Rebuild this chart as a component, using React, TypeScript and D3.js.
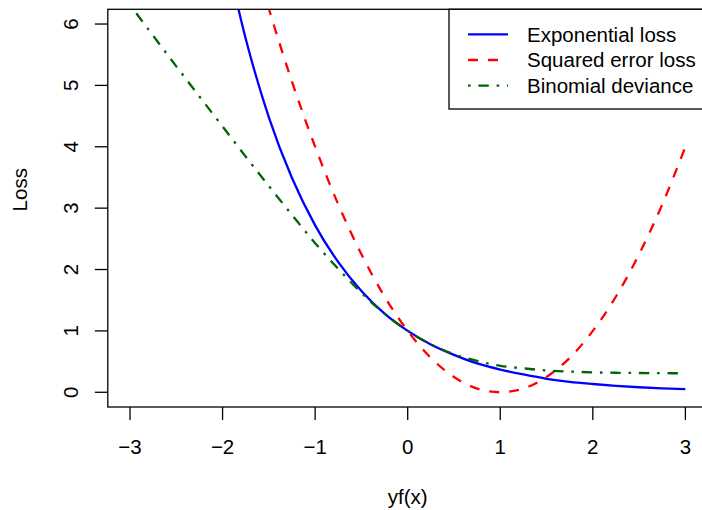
import React from "react";
import * as d3 from "d3";

// sample points of the margin yf(x)
const xs = [
  -3, -2.75, -2.5, -2.25, -2, -1.75, -1.5, -1.25, -1, -0.75, -0.5, -0.25, 0,
  0.25, 0.5, 0.75, 1, 1.25, 1.5, 1.75, 2, 2.25, 2.5, 2.75, 3,
];

// exponential loss (starts at x = -2, above the top of the frame)
const expLoss = [
  null, null, null, null, 7.39, 5.76, 4.48, 3.49, 2.72, 2.12, 1.65, 1.28, 1.0,
  0.78, 0.61, 0.47, 0.37, 0.29, 0.22, 0.17, 0.135, 0.105, 0.082, 0.064, 0.05,
];

// squared error loss (starts at x = -1.75)
const sqLoss = [
  null, null, null, null, null, 7.56, 6.25, 5.06, 4.0, 3.06, 2.25, 1.56, 1.0,
  0.56, 0.25, 0.06, 0.0, 0.06, 0.25, 0.56, 1.0, 1.56, 2.25, 3.06, 4.0,
];

// binomial deviance
const binDev = [
  6.31, 5.81, 5.31, 4.82, 4.33, 3.84, 3.36, 2.89, 2.43, 2.01, 1.62, 1.28, 1.0,
  0.78, 0.62, 0.51, 0.43, 0.39, 0.355, 0.337, 0.325, 0.318, 0.314, 0.311, 0.309,
];

const xTicks = [-3, -2, -1, 0, 1, 2, 3];
const yTicks = [0, 1, 2, 3, 4, 5, 6];

const series = [
  { name: "Exponential loss", values: expLoss, color: "#0000ff", dash: "none" },
  { name: "Squared error loss", values: sqLoss, color: "#ff0000", dash: "10 10" },
  { name: "Binomial deviance", values: binDev, color: "#006400", dash: "2.6 7.8 10.4 7.8" },
];

const W = 702;
const H = 510;
const FONT = "'Liberation Sans', Arial, Helvetica, sans-serif";
const FS = 20.5;

export default function App() {
  const x = d3.scaleLinear().domain([-3.24, 3.24]).range([107.8, 707.6]);
  const y = d3.scaleLinear().domain([-0.24, 6.24]).range([407, 9.3]);
  const [x0, x1] = x.range();
  const [y0, y1] = y.range();

  const line = (vals) =>
    d3
      .line()
      .defined((d) => d[1] != null)
      .x((d) => x(d[0]))
      .y((d) => y(d[1]))
      .curve(d3.curveMonotoneX)(xs.map((v, i) => [v, vals[i]]));

  // legend geometry
  const legLeft = 449;
  const legBottom = 109;
  const rowY = [34.3, 60, 85.6];

  return (
    <svg
      width={W}
      height={H}
      style={{ position: "absolute", left: 0, top: 0, background: "#fff" }}
      fontFamily={FONT}
    >
      <defs>
        <clipPath id="plot">
          <rect x={x0} y={y1} width={x1 - x0} height={y0 - y1} />
        </clipPath>
      </defs>

      <g clipPath="url(#plot)">
        {series.map((s) => (
          <path
            key={s.name}
            d={line(s.values)}
            fill="none"
            stroke={s.color}
            strokeWidth={2.3}
            strokeDasharray={s.dash}
          />
        ))}
      </g>

      <rect x={x0} y={y1} width={x1 - x0} height={y0 - y1} fill="none" stroke="#000" strokeWidth={1.3} />

      {/* x axis */}
      {xTicks.map((t) => (
        <g key={t}>
          <line x1={x(t)} x2={x(t)} y1={y0} y2={y0 + 13} stroke="#000" strokeWidth={1.3} />
          <text x={x(t)} y={454} fontSize={FS} textAnchor="middle">
            {t < 0 ? "\u2212" + Math.abs(t) : t}
          </text>
        </g>
      ))}
      <text x={x(0)} y={504} fontSize={FS} textAnchor="middle">
        yf(x)
      </text>

      {/* y axis */}
      {yTicks.map((t) => (
        <g key={t}>
          <line x1={x0 - 13} x2={x0} y1={y(t)} y2={y(t)} stroke="#000" strokeWidth={1.3} />
          <text
            transform={`translate(77.5,${y(t)}) rotate(-90)`}
            fontSize={FS}
            textAnchor="middle"
          >
            {t}
          </text>
        </g>
      ))}
      <text
        transform={`translate(27,${y(3.3)}) rotate(-90)`}
        fontSize={FS}
        textAnchor="middle"
      >
        Loss
      </text>

      {/* legend */}
      <rect
        x={legLeft}
        y={y1}
        width={x1 - legLeft}
        height={legBottom - y1}
        fill="#fff"
        stroke="#000"
        strokeWidth={1.3}
      />
      {series.map((s, i) => (
        <g key={s.name}>
          <line
            x1={468}
            x2={508}
            y1={rowY[i]}
            y2={rowY[i]}
            stroke={s.color}
            strokeWidth={2.3}
            strokeDasharray={s.dash}
          />
          <text x={527} y={rowY[i] + 7.3} fontSize={FS}>
            {s.name}
          </text>
        </g>
      ))}
    </svg>
  );
}
